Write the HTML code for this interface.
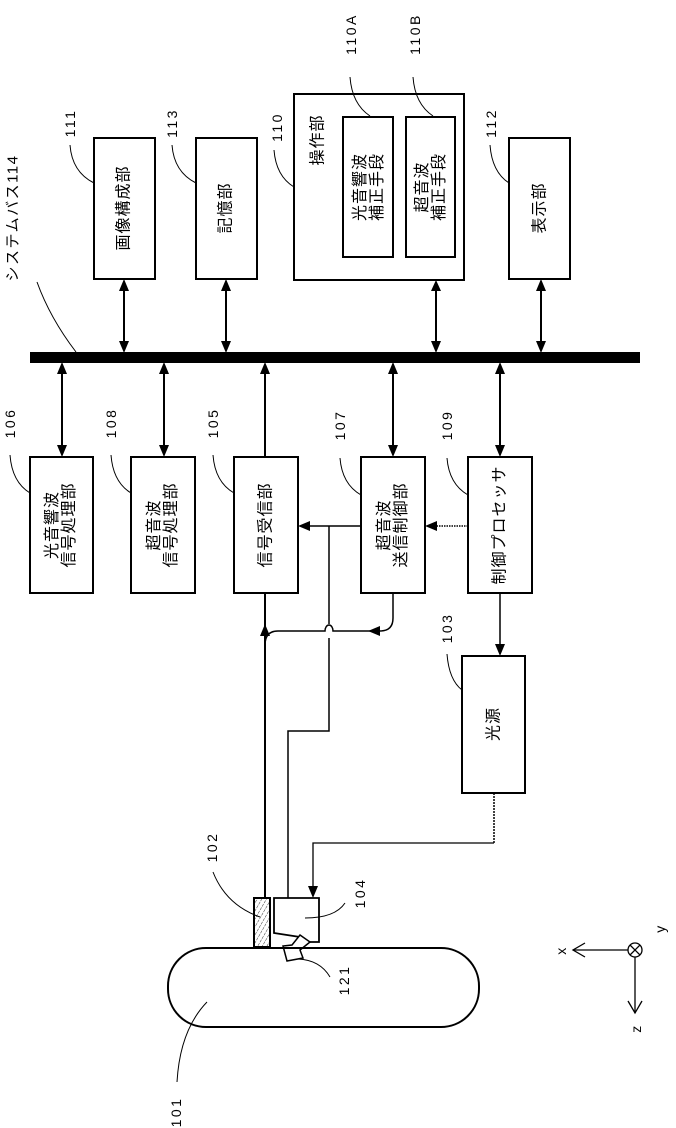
<!DOCTYPE html>
<html><head><meta charset="utf-8"><style>
html,body{margin:0;padding:0;background:#fff;}
svg{display:block;}
text{font-family:"Liberation Sans","Noto Sans CJK JP",sans-serif;fill:#000;}
.b{font-size:16px;letter-spacing:1px;}
.n{font-size:14px;letter-spacing:2.5px;}
.s{font-size:15px;letter-spacing:1.5px;}
</style></head><body>
<svg width="676" height="1128" viewBox="0 0 676 1128" xmlns="http://www.w3.org/2000/svg">
<defs>
<pattern id="h" width="4" height="4" patternUnits="userSpaceOnUse" patternTransform="rotate(30)">
<line x1="0" y1="0" x2="0" y2="4" stroke="#000" stroke-width="0.8" stroke-dasharray="2,1"/>
</pattern>
</defs>
<g fill="none" stroke="#000" stroke-width="2">
<rect x="31" y="353" width="608" height="9" fill="#000"/>
<rect x="94" y="138" width="61" height="141"/>
<rect x="196" y="138" width="61" height="141"/>
<rect x="294" y="94" width="170" height="186"/>
<rect x="343" y="117" width="50" height="140"/>
<rect x="406" y="117" width="49" height="140"/>
<rect x="509" y="138" width="61" height="141"/>
<rect x="30" y="457" width="63" height="136"/>
<rect x="131" y="457" width="64" height="136"/>
<rect x="234" y="457" width="64" height="136"/>
<rect x="361" y="457" width="64" height="136"/>
<rect x="468" y="457" width="64" height="136"/>
<rect x="462" y="656" width="63" height="137"/>
<line x1="124" y1="289" x2="124" y2="343"/>
<line x1="226" y1="289" x2="226" y2="343"/>
<line x1="436" y1="289" x2="436" y2="343"/>
<line x1="541" y1="289" x2="541" y2="343"/>
<line x1="62" y1="373" x2="62" y2="447"/>
<line x1="164" y1="373" x2="164" y2="447"/>
<line x1="265" y1="373" x2="265" y2="457"/>
<line x1="393" y1="373" x2="393" y2="447"/>
<line x1="500" y1="373" x2="500" y2="447"/>
<line x1="361" y1="526" x2="308" y2="526" stroke-width="1.5"/>
<line x1="329" y1="526" x2="329" y2="624" stroke-width="1.5"/>
<path d="M329 638 V731 H288 V898" stroke-width="1.5"/>
<line x1="468" y1="526" x2="435" y2="526" stroke-dasharray="1.5,1" stroke-width="1.5"/>
<path d="M393 593 V618 Q393 631 380 631" stroke-width="1.5"/>
<path d="M372 631 H333 A4 6 0 0 0 325 631 H278 Q265 631 265 645" stroke-width="1.5"/>
<line x1="265" y1="593" x2="265" y2="898"/>
<line x1="500" y1="593" x2="500" y2="646" stroke-width="1.5"/>
<line x1="494" y1="793" x2="494" y2="843" stroke-dasharray="2,1" stroke-width="1.5"/>
<path d="M494 843 H313 V888" stroke-width="1.3"/>
<rect x="254" y="898" width="16" height="49" fill="url(#h)"/>
<path d="M300 937 L274 933 V898 H319 V942 H309" stroke-width="1.8"/>
<path d="M300 935 L310 942 L300 950 L303 958 L287 961 L283 946 L292 945 Z" fill="#fff" stroke-width="1.5"/>
<rect x="168" y="948" width="311" height="79" rx="38" ry="38"/>
<g stroke-width="1">
<path d="M70 145 Q72 172 94 183"/>
<path d="M172 145 Q174 172 196 183"/>
<path d="M274 150 Q276 176 294 187"/>
<path d="M490 145 Q492 172 509 183"/>
<path d="M350 77 Q352 104 370 116"/>
<path d="M413 77 Q415 104 433 116"/>
<path d="M37 282 Q50 318 76 352"/>
<path d="M10 455 Q12 482 30 493"/>
<path d="M111 455 Q113 482 131 493"/>
<path d="M213 455 Q215 482 234 493"/>
<path d="M340 458 Q342 484 361 495"/>
<path d="M447 458 Q449 484 468 495"/>
<path d="M447 654 Q449 680 462 690"/>
<path d="M213 872 Q226 905 260 917"/>
<path d="M345 903 Q335 918 305 918"/>
<path d="M330 977 Q320 960 298 959"/>
<path d="M177 1082 Q180 1030 207 1002"/>
</g>
<g stroke-width="1.3">
<circle cx="635" cy="950" r="7"/>
<path d="M630 945 L640 955 M640 945 L630 955"/>
<line x1="628" y1="950" x2="573" y2="950"/>
<path d="M585 943 L573 950 L585 957"/>
<line x1="635" y1="957" x2="635" y2="1013"/>
<path d="M628 1001 L635 1013 L642 1001"/>
</g>
</g>
<g fill="#000">
<polygon points="124,279 119,291 129,291"/><polygon points="124,353 119,341 129,341"/>
<polygon points="226,279 221,291 231,291"/><polygon points="226,353 221,341 231,341"/>
<polygon points="436,280 431,291 441,291"/><polygon points="436,353 431,341 441,341"/>
<polygon points="541,279 536,291 546,291"/><polygon points="541,353 536,341 546,341"/>
<polygon points="62,362 57,374 67,374"/><polygon points="62,457 57,445 67,445"/>
<polygon points="164,362 159,374 169,374"/><polygon points="164,457 159,445 169,445"/>
<polygon points="265,362 260,374 270,374"/>
<polygon points="393,362 388,374 398,374"/><polygon points="393,457 388,445 398,445"/>
<polygon points="500,362 495,374 505,374"/><polygon points="500,457 495,445 505,445"/>
<polygon points="298,526 310,521 310,531"/>
<polygon points="425,526 437,521 437,531"/>
<polygon points="368,631 380,626 380,636"/>
<polygon points="265,624 260,636 270,636"/>
<polygon points="500,656 495,644 505,644"/>
<polygon points="313,898 308,886 318,886"/>
</g>
<g class="b" text-anchor="middle" dominant-baseline="central">
<text transform="translate(124,208) rotate(-90)">画像構成部</text>
<text transform="translate(226,208) rotate(-90)">記憶部</text>
<text transform="translate(318,140) rotate(-90)">操作部</text>
<text transform="translate(368,187) rotate(-90)"><tspan x="0" y="-8">光音響波</tspan><tspan x="0" y="9">補正手段</tspan></text>
<text transform="translate(430,187) rotate(-90)"><tspan x="0" y="-8">超音波</tspan><tspan x="0" y="9">補正手段</tspan></text>
<text transform="translate(540,208) rotate(-90)">表示部</text>
<text transform="translate(61,525) rotate(-90)"><tspan x="0" y="-9">光音響波</tspan><tspan x="0" y="8">信号処理部</tspan></text>
<text transform="translate(163,525) rotate(-90)"><tspan x="0" y="-9">超音波</tspan><tspan x="0" y="8">信号処理部</tspan></text>
<text transform="translate(266,525) rotate(-90)">信号受信部</text>
<text transform="translate(393,525) rotate(-90)"><tspan x="0" y="-9">超音波</tspan><tspan x="0" y="8">送信制御部</tspan></text>
<text transform="translate(500,525) rotate(-90)">制御プロセッサ</text>
<text transform="translate(494,724) rotate(-90)">光源</text>
</g>
<text class="s" text-anchor="middle" dominant-baseline="central" transform="translate(13,218) rotate(-90)">システムバス114</text>
<g class="n" text-anchor="middle" dominant-baseline="central">
<text transform="translate(70,123) rotate(-90)">111</text>
<text transform="translate(172,123) rotate(-90)">113</text>
<text transform="translate(277,127) rotate(-90)">110</text>
<text transform="translate(491,123) rotate(-90)">112</text>
<text transform="translate(351,34) rotate(-90)">110A</text>
<text transform="translate(415,34) rotate(-90)">110B</text>
<text transform="translate(10,423) rotate(-90)">106</text>
<text transform="translate(111,423) rotate(-90)">108</text>
<text transform="translate(213,423) rotate(-90)">105</text>
<text transform="translate(340,425) rotate(-90)">107</text>
<text transform="translate(447,425) rotate(-90)">109</text>
<text transform="translate(447,628) rotate(-90)">103</text>
<text transform="translate(212,847) rotate(-90)">102</text>
<text transform="translate(360,893) rotate(-90)">104</text>
<text transform="translate(344,980) rotate(-90)">121</text>
<text transform="translate(176,1112) rotate(-90)">101</text>
<text transform="translate(561,950) rotate(-90)">x</text>
<text transform="translate(636,1028) rotate(-90)">z</text>
<text transform="translate(660,928) rotate(-90)">y</text>
</g>
</svg>
</body></html>
